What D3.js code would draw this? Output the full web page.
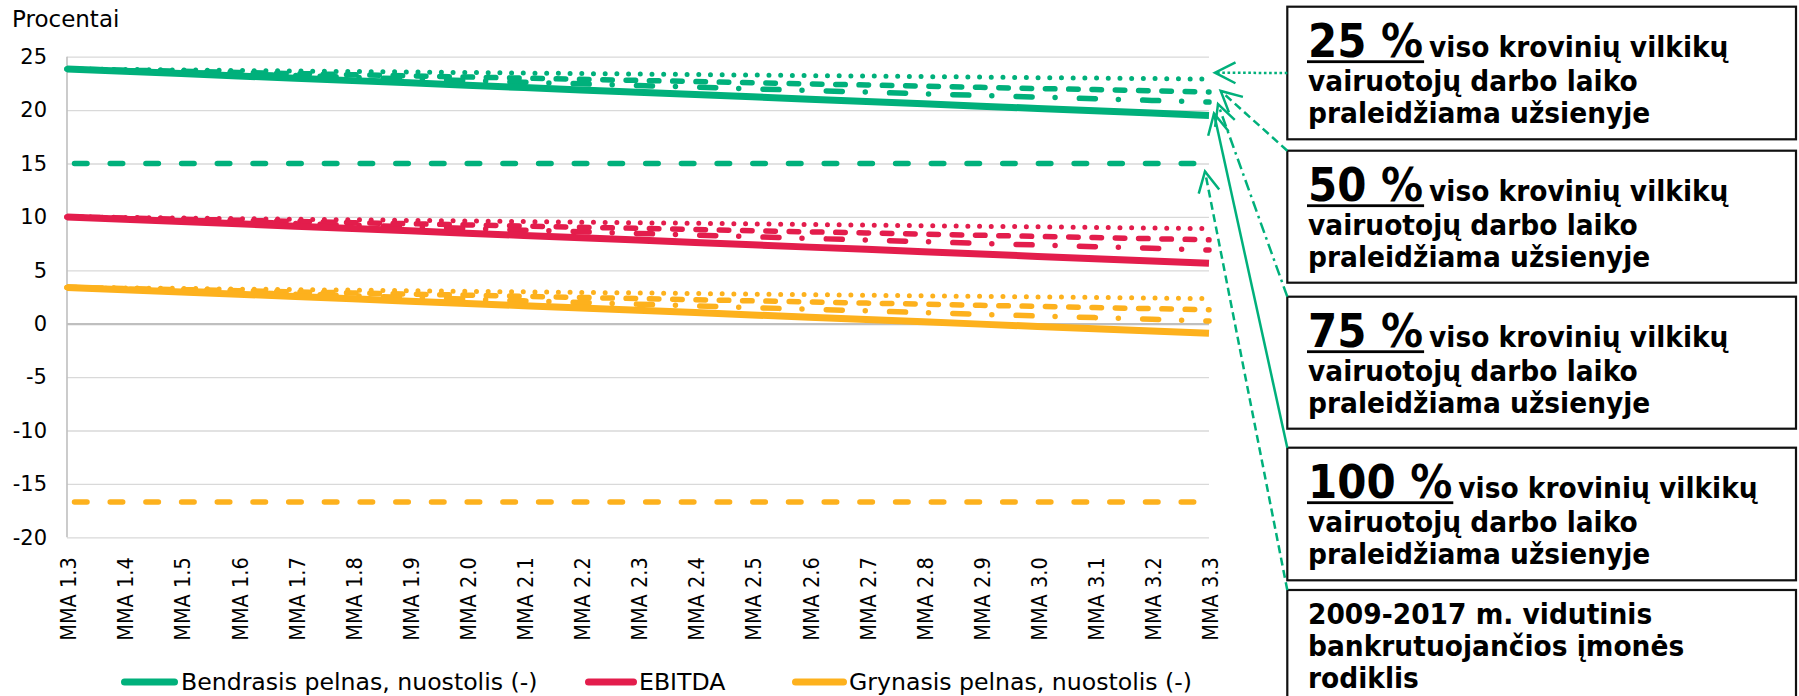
<!DOCTYPE html>
<html>
<head>
<meta charset="utf-8">
<script src="https://cdn.jsdelivr.net/npm/d3@7"></script>
<style>
  html, body { margin: 0; padding: 0; background: #fff; }
  svg { display: block; }
  text { font-family: "DejaVu Sans", Verdana, sans-serif; fill: #000; }
</style>
</head>
<body>
<svg id="chart" width="1799" height="696"></svg>
<script>
// ---- data ----
const categories = ["MMA 1.3","MMA 1.4","MMA 1.5","MMA 1.6","MMA 1.7","MMA 1.8","MMA 1.9",
  "MMA 2.0","MMA 2.1","MMA 2.2","MMA 2.3","MMA 2.4","MMA 2.5","MMA 2.6","MMA 2.7",
  "MMA 2.8","MMA 2.9","MMA 3.0","MMA 3.1","MMA 3.2","MMA 3.3"];
const yTicks = [-20, -15, -10, -5, 0, 5, 10, 15, 20, 25];

// Bendrasis pelnas (gross profit margin), share of driver time abroad: 25/50/75/100 %
const bendrasis25  = [23.85,23.80,23.76,23.71,23.66,23.61,23.57,23.52,23.47,23.42,23.38,23.33,23.28,23.23,23.19,23.14,23.09,23.04,23.00,22.95,22.90];
const bendrasis50  = [23.85,23.74,23.64,23.53,23.42,23.31,23.21,23.10,22.99,22.88,22.78,22.67,22.56,22.45,22.35,22.24,22.13,22.02,21.92,21.81,21.70];
const bendrasis75  = [23.85,23.70,23.54,23.39,23.23,23.08,22.92,22.77,22.61,22.46,22.30,22.15,21.99,21.84,21.68,21.53,21.37,21.22,21.06,20.91,20.75];
const bendrasis100 = [23.85,23.63,23.42,23.20,22.98,22.76,22.55,22.33,22.11,21.89,21.68,21.46,21.24,21.02,20.81,20.59,20.37,20.15,19.94,19.72,19.50];

// EBITDA margin
const ebitda25  = [10.00,9.95,9.89,9.84,9.78,9.73,9.67,9.62,9.56,9.51,9.45,9.40,9.34,9.29,9.23,9.18,9.12,9.07,9.01,8.96,8.90];
const ebitda50  = [10.00,9.89,9.79,9.68,9.57,9.46,9.36,9.25,9.14,9.03,8.93,8.82,8.71,8.60,8.50,8.39,8.28,8.17,8.07,7.96,7.85];
const ebitda75  = [10.00,9.85,9.69,9.54,9.38,9.23,9.07,8.92,8.76,8.61,8.45,8.30,8.14,7.99,7.83,7.68,7.52,7.37,7.21,7.06,6.90];
const ebitda100 = [10.00,9.78,9.57,9.35,9.13,8.91,8.70,8.48,8.26,8.04,7.83,7.61,7.39,7.17,6.96,6.74,6.52,6.30,6.09,5.87,5.65];

// Grynasis pelnas (net profit margin)
const grynasis25  = [3.40,3.35,3.30,3.24,3.19,3.14,3.09,3.03,2.98,2.93,2.88,2.82,2.77,2.72,2.67,2.61,2.56,2.51,2.46,2.40,2.35];
const grynasis50  = [3.40,3.30,3.19,3.09,2.98,2.88,2.77,2.67,2.56,2.46,2.35,2.25,2.14,2.04,1.93,1.83,1.72,1.62,1.51,1.41,1.30];
const grynasis75  = [3.40,3.24,3.09,2.93,2.77,2.61,2.46,2.30,2.14,1.98,1.83,1.67,1.51,1.35,1.20,1.04,0.88,0.72,0.57,0.41,0.25];
const grynasis100 = [3.40,3.19,2.97,2.76,2.54,2.33,2.11,1.90,1.68,1.47,1.25,1.04,0.82,0.61,0.39,0.18,-0.04,-0.26,-0.47,-0.69,-0.90];

// 2009-2017 average of a bankrupting company
const bendrasisBankrot = 15.0;
const grynasisBankrot = -16.7;

const legendLabels = ["Bendrasis pelnas, nuostolis (-)", "EBITDA", "Grynasis pelnas, nuostolis (-)"];
const boxHeads = ["25 %", "50 %", "75 %", "100 %", null];
const boxLines = [
  ["viso krovinių vilkikų", "vairuotojų darbo laiko", "praleidžiama užsienyje"],
  ["viso krovinių vilkikų", "vairuotojų darbo laiko", "praleidžiama užsienyje"],
  ["viso krovinių vilkikų", "vairuotojų darbo laiko", "praleidžiama užsienyje"],
  ["viso krovinių vilkikų", "vairuotojų darbo laiko", "praleidžiama užsienyje"],
  ["2009-2017 m. vidutinis", "bankrutuojančios įmonės", "rodiklis"]
];

// ---- styling ----
const GREEN = "#00B07B", RED = "#E31D4C", ORANGE = "#FDB11D";
const STYLES = {
  dotted:  { width: 5,   dash: "0,11.7",         cap: "round" },
  dashed:  { width: 5.5, dash: "9.5,13.8",       cap: "round" },
  dashdot: { width: 5.5, dash: "16,23,0,24.3",   cap: "round" },
  solid:   { width: 7,   dash: null,             cap: "butt"  },
  longdash:{ width: 5.5, dash: "12.5,23.2",      cap: "round", offset: 28.2 }
};

const series = [
  { values: bendrasis25,  color: GREEN,  style: "dotted" },
  { values: bendrasis50,  color: GREEN,  style: "dashed" },
  { values: bendrasis75,  color: GREEN,  style: "dashdot" },
  { values: ebitda25,     color: RED,    style: "dotted" },
  { values: ebitda50,     color: RED,    style: "dashed" },
  { values: ebitda75,     color: RED,    style: "dashdot" },
  { values: grynasis25,   color: ORANGE, style: "dotted" },
  { values: grynasis50,   color: ORANGE, style: "dashed" },
  { values: grynasis75,   color: ORANGE, style: "dashdot" },
  { values: categories.map(() => bendrasisBankrot), color: GREEN,  style: "longdash" },
  { values: categories.map(() => grynasisBankrot),  color: ORANGE, style: "longdash" },
  { values: bendrasis100, color: GREEN,  style: "solid" },
  { values: ebitda100,    color: RED,    style: "solid" },
  { values: grynasis100,  color: ORANGE, style: "solid" }
];

// ---- layout ----
const svg = d3.select("#chart");
const plot = { left: 67, right: 1209, top: 56.7, bottom: 537.3 };

const x = d3.scalePoint().domain(categories).range([plot.left, plot.right]).padding(0);
const y = d3.scaleLinear().domain([-20, 25]).range([plot.bottom, plot.top]);

// y axis with gridlines (plain hyphen for negatives)
const yAxis = svg.append("g")
  .attr("transform", `translate(${plot.left},0)`)
  .call(d3.axisLeft(y).tickValues(yTicks).tickFormat(d => String(d))
    .tickSize(-(plot.right - plot.left)).tickPadding(20));
yAxis.select(".domain").remove();
yAxis.selectAll(".tick line")
  .attr("stroke", d => d === 0 ? "#bfbfbf" : "#d9d9d9")
  .attr("stroke-width", d => d === 0 ? 2.2 : 1.3);
yAxis.selectAll(".tick text")
  .style("font-family", '"DejaVu Sans", Verdana, sans-serif')
  .style("font-size", "21px")
  .attr("fill", "#000");

// vertical axis line
svg.append("line")
  .attr("x1", plot.left).attr("x2", plot.left)
  .attr("y1", y(25)).attr("y2", y(-20))
  .attr("stroke", "#bfbfbf").attr("stroke-width", 1.6);

// category axis (labels only, rotated)
const xAxis = svg.append("g")
  .attr("transform", `translate(0,${plot.bottom})`)
  .call(d3.axisBottom(x).tickSize(0).tickPadding(0));
xAxis.select(".domain").remove();
xAxis.selectAll(".tick text")
  .style("font-family", '"DejaVu Sans", Verdana, sans-serif')
  .style("font-size", "21.5px")
  .attr("fill", "#000")
  .attr("text-anchor", "end")
  .attr("transform", "translate(1,20) rotate(-90) scale(0.9,1)")
  .attr("x", 0).attr("y", 0).attr("dy", "0.36em");

// axis title
svg.append("text").attr("x", 12).attr("y", 27)
  .style("font-size", "23px").text("Procentai");

// series lines
const line = d3.line().x((d, i) => x(categories[i])).y(d => y(d));
svg.append("g").selectAll("path")
  .data(series)
  .join("path")
  .attr("d", d => line(d.values))
  .attr("fill", "none")
  .attr("stroke", d => d.color)
  .attr("stroke-width", d => STYLES[d.style].width)
  .attr("stroke-linecap", d => STYLES[d.style].cap)
  .attr("stroke-linejoin", "round")
  .attr("stroke-dasharray", d => STYLES[d.style].dash)
  .attr("stroke-dashoffset", d => STYLES[d.style].offset || 0);

// legend
const legendPos = [
  { x0: 121, x1: 178, tx: 181 },
  { x0: 585, x1: 637, tx: 639 },
  { x0: 792, x1: 847, tx: 849 }
];
const legendColors = [GREEN, RED, ORANGE];
const legend = svg.append("g");
legendLabels.forEach((label, i) => {
  const p = legendPos[i];
  legend.append("line")
    .attr("x1", p.x0 + 3.5).attr("x2", p.x1 - 3.5)
    .attr("y1", 682).attr("y2", 682)
    .attr("stroke", legendColors[i]).attr("stroke-width", 7)
    .attr("stroke-linecap", "round");
  legend.append("text")
    .attr("transform", `translate(${p.tx},690) scale(1.05,1)`)
    .style("font-size", "22.5px").text(label);
});

// annotation boxes
const boxLeft = 1287.3, boxRight = 1796;
const boxTops = [6.7, 150.7, 296.7, 447.7, 590];
const boxBottoms = [139.3, 282.7, 428.7, 580.3, 730];
const boxes = svg.append("g");
const boldText = (tx, ty, size, str) => boxes.append("text")
  .attr("transform", `translate(${tx},${ty}) scale(1,1.1)`)
  .style("font-size", size + "px").style("font-weight", "bold").text(str);

boxHeads.forEach((head, i) => {
  const top = boxTops[i];
  boxes.append("rect")
    .attr("x", boxLeft).attr("y", top)
    .attr("width", boxRight - boxLeft).attr("height", boxBottoms[i] - top)
    .attr("fill", "#fff").attr("stroke", "#111").attr("stroke-width", 2.2);
  const tx = 1308;
  if (head) {
    const big = boldText(tx, top + 50.5, 42, head);
    const w = big.node().getComputedTextLength();
    boxes.append("rect").attr("x", tx - 1).attr("y", top + 53.6)
      .attr("width", w + 2).attr("height", 2.8).attr("fill", "#000");
    boldText(tx + w + 6, top + 50.5, 26.5, boxLines[i][0]);
    boldText(tx, top + 84, 26.5, boxLines[i][1]);
    boldText(tx, top + 116, 26.5, boxLines[i][2]);
  } else {
    boxLines[i].forEach((t, k) => boldText(tx, top + 34.3 + k * 31.7, 26.5, t));
  }
});

// connectors from the boxes to the line ends
const last = categories[categories.length - 1];
const connectors = [
  { from: [boxLeft, (boxTops[0] + boxBottoms[0]) / 2], to: [x(last) + 6,  y(bendrasis25[20]) - 6.4], dash: "2.6,2.6" },
  { from: [boxLeft, boxTops[1]], to: [x(last) + 11.7, y(bendrasis50[20]) - 1],   dash: "8,4.5" },
  { from: [boxLeft, boxTops[2]], to: [x(last) + 9,    y(bendrasis75[20]) + 2],   dash: "11,4.5,2.6,4.5" },
  { from: [boxLeft, boxTops[3]], to: [x(last) + 5,    y(bendrasis100[20]) - 2],  dash: null },
  { from: [boxLeft, boxTops[4]], to: [x(last) - 4,    y(bendrasisBankrot) + 8],  dash: "8,4.5" }
];
const conn = svg.append("g").attr("fill", "none").attr("stroke", GREEN).attr("stroke-width", 2.5);
connectors.forEach(c => {
  conn.append("line")
    .attr("x1", c.from[0]).attr("y1", c.from[1])
    .attr("x2", c.to[0]).attr("y2", c.to[1])
    .attr("stroke-dasharray", c.dash);
  const dx = c.from[0] - c.to[0], dy = c.from[1] - c.to[1];
  const len = Math.hypot(dx, dy), ux = dx / len, uy = dy / len;
  const L = 23, a = 27 * Math.PI / 180;
  const arm = s => [c.to[0] + L * (ux * Math.cos(s * a) - uy * Math.sin(s * a)),
                    c.to[1] + L * (ux * Math.sin(s * a) + uy * Math.cos(s * a))];
  const p1 = arm(1), p2 = arm(-1);
  conn.append("path")
    .attr("d", `M${p1[0]},${p1[1]}L${c.to[0]},${c.to[1]}L${p2[0]},${p2[1]}`)
    .attr("stroke-linejoin", "miter");
});
</script>
</body>
</html>
